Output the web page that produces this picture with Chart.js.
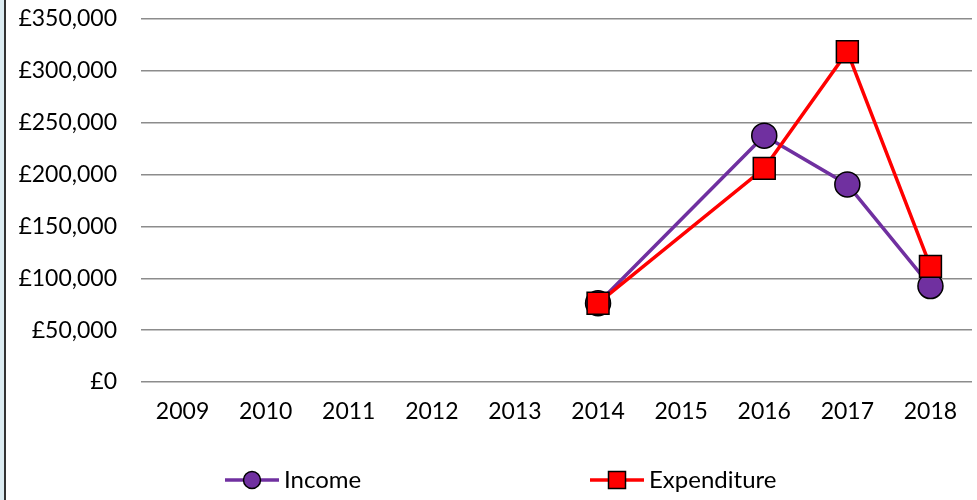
<!DOCTYPE html>
<html>
  <head>
    <title>Income and Expenditure</title>
    <script src="https://cdn.jsdelivr.net/npm/chart.js@4/dist/chart.umd.min.js"></script>
    <style>
      body { margin: 0; background: #fff; }
      #container { width: 977px; height: 500px; }
    </style>
  </head>

  <body>
    <div id="container">
      <canvas id="canvas" width="977" height="500"></canvas>
    </div>
    <script>
      // values
      const years = ['2009', '2010', '2011', '2012', '2013', '2014', '2015', '2016', '2017', '2018'];
      const income = [null, null, null, null, null, 76000, null, 237500, 190500, 92500];
      const expenditure = [null, null, null, null, null, 76000, null, 206000, 318500, 111500];

      const FONT = 'Lato, "Open Sans", sans-serif';
      const PURPLE = '#7030a0';
      const RED = '#ff0000';

      // left frame edge seen on the reference
      const frame = {
        id: 'frame',
        beforeDraw(chart) {
          const c = chart.ctx;
          c.save();
          c.fillStyle = '#dcecf2';
          c.fillRect(0, 0, 4, chart.height);
          c.fillStyle = '#333';
          c.fillRect(4, 0, 2, chart.height);
          c.restore();
        },
      };

      // line + marker legend, like the spreadsheet one
      const lineLegend = {
        id: 'lineLegend',
        afterDraw(chart) {
          const c = chart.ctx;
          const y = 480;
          const starts = [225, 590];
          const items = [chart.data.datasets[0], chart.data.datasets[1]];
          c.save();
          items.forEach((ds, i) => {
            const x0 = starts[i];
            const cx = x0 + 27;
            c.strokeStyle = ds.borderColor;
            c.lineWidth = 3.5;
            c.beginPath();
            c.moveTo(x0, y);
            c.lineTo(x0 + 54, y);
            c.stroke();
            c.fillStyle = ds.pointBackgroundColor;
            c.strokeStyle = '#000';
            c.lineWidth = 1.5;
            c.beginPath();
            if (ds.pointStyle === 'rect') {
              c.rect(cx - 8.5, y - 8.5, 17, 17);
            } else {
              c.arc(cx, y, 8.5, 0, Math.PI * 2);
            }
            c.fill();
            c.stroke();
            c.fillStyle = '#000';
            c.font = '24px ' + FONT;
            c.textBaseline = 'middle';
            c.textAlign = 'left';
            c.fillText(ds.label, x0 + 59, y);
          });
          c.restore();
        },
      };

      window.onload = () => {
        const ctx = document.getElementById('canvas').getContext('2d');
        window.myChart = new Chart(ctx, {
          type: 'line',
          data: {
            labels: years,
            datasets: [
              {
                label: 'Income',
                data: income,
                order: 1,
                borderColor: PURPLE,
                borderWidth: 3.5,
                pointStyle: 'circle',
                pointRadius: 12.5,
                pointBackgroundColor: PURPLE,
                pointBorderColor: '#000',
                pointBorderWidth: 1.5,
                spanGaps: true,
                tension: 0,
              },
              {
                label: 'Expenditure',
                data: expenditure,
                order: 0,
                borderColor: RED,
                borderWidth: 3.5,
                pointStyle: 'rect',
                pointRadius: 15.5,
                pointBackgroundColor: RED,
                pointBorderColor: '#000',
                pointBorderWidth: 1.5,
                spanGaps: true,
                tension: 0,
              },
            ],
          },
          options: {
            responsive: false,
            animation: false,
            layout: {
              autoPadding: false,
              padding: { left: 0, right: 5, top: 19, bottom: 68 },
            },
            plugins: {
              legend: { display: false },
              tooltip: { enabled: false },
            },
            scales: {
              x: {
                offset: true,
                grid: { display: false, drawTicks: false },
                border: { display: false },
                ticks: {
                  color: '#000',
                  font: { family: FONT, size: 23, lineHeight: 2.6 },
                  padding: 0,
                  maxRotation: 0,
                },
                afterFit: (s) => { s.height = 50; },
              },
              y: {
                min: 0,
                max: 350000,
                grid: { color: '#8c8c8c', lineWidth: 1.5, drawTicks: false },
                border: { display: false },
                ticks: {
                  stepSize: 50000,
                  color: '#000',
                  font: { family: FONT, size: 23 },
                  padding: 24,
                  callback: (v) => '£' + v.toLocaleString('en-GB'),
                },
                afterFit: (s) => {
                  s.width = 141;
                  s.paddingTop = 0;
                  s.paddingBottom = 0;
                },
              },
            },
          },
          plugins: [frame, lineLegend],
        });
      };
    </script>
  </body>
</html>
